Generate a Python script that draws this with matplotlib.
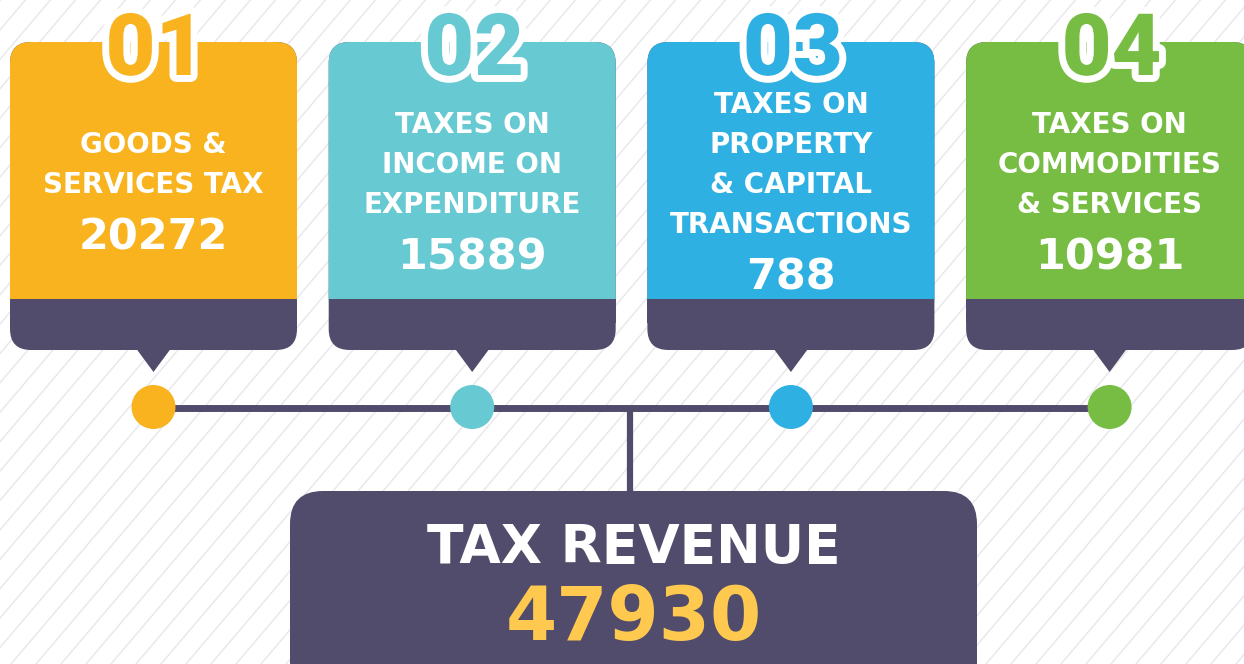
import matplotlib
matplotlib.use("Agg")
import matplotlib.pyplot as plt
import matplotlib.patheffects as pe
from matplotlib.patches import FancyBboxPatch, Rectangle, Circle, Polygon

# data
step_labels = ["01", "02", "03", "04"]
categories = [
    ["GOODS &", "SERVICES TAX"],
    ["TAXES ON", "INCOME ON", "EXPENDITURE"],
    ["TAXES ON", "PROPERTY", "& CAPITAL", "TRANSACTIONS"],
    ["TAXES ON", "COMMODITIES", "& SERVICES"],
]
values = [20272, 15889, 788, 10981]
total_label = "TAX REVENUE"
total_value = 47930
colors = ["#F8B31F", "#67C9D2", "#2FB0E3", "#77BD43"]

DARK = "#514C6B"
W, H = 1244, 664

fig = plt.figure(figsize=(W / 100, H / 100), dpi=100)
ax = fig.add_axes([0, 0, 1, 1])
ax.set_xlim(0, W)
ax.set_ylim(H, 0)
ax.axis("off")

# diagonal stripes in the background
for x0 in range(-H, W + H, 25):
    ax.plot([x0, x0 + H * 0.85], [H, 0], color="#E9E9ED", lw=1.1, zorder=0)

card_w = 287
card_top, band_top, card_bot = 42, 299, 350
pitch = 318.7
font = "DejaVu Sans"

centers = [153.5 + i * pitch for i in range(len(values))]

# connector lines
ax.plot([centers[0], centers[-1]], [408, 408], color=DARK, lw=5, zorder=1,
        solid_capstyle="butt")
ax.plot([630, 630], [408, 495], color=DARK, lw=4.5, zorder=1,
        solid_capstyle="butt")

for i, cx in enumerate(centers):
    x0 = cx - card_w / 2
    # dark base with rounded corners
    ax.add_patch(FancyBboxPatch((x0, card_top), card_w, card_bot - card_top,
                                boxstyle="round,pad=0,rounding_size=21",
                                fc=DARK, ec="none", zorder=2))
    # coloured upper part
    ax.add_patch(FancyBboxPatch((x0, card_top), card_w, band_top + 21 - card_top,
                                boxstyle="round,pad=0,rounding_size=21",
                                fc=colors[i], ec="none", zorder=3))
    ax.add_patch(Rectangle((x0, band_top), card_w, 24, fc=DARK, ec="none",
                           zorder=4))
    # pointer
    ax.add_patch(Polygon([[cx - 17, card_bot - 1], [cx + 17, card_bot - 1],
                          [cx, 372]], closed=True, fc=DARK, ec="none",
                         zorder=4))
    # dot on the connector
    ax.add_patch(Circle((cx, 407), 22, fc=colors[i], ec="none", zorder=5))

    # step number with white outline
    ax.text(cx + 2, 75, step_labels[i], ha="center", va="baseline",
            fontsize=62, fontweight="black", family="Roboto",
            color=colors[i], zorder=6,
            path_effects=[pe.withStroke(linewidth=10, foreground="white")])

    lines = categories[i]
    first = 193 - 20 * len(lines)
    for j, line in enumerate(lines):
        ax.text(cx, first + 40 * j, line, ha="center", va="baseline",
                fontsize=20, fontweight="bold", family=font,
                color="white", zorder=6)
    ax.text(cx, first + 40 * (len(lines) - 1) + 57, str(values[i]),
            ha="center", va="baseline", fontsize=31, fontweight="bold",
            family=font, color="white", zorder=6)

# total box
ax.add_patch(FancyBboxPatch((290, 491), 687, 220,
                            boxstyle="round,pad=0,rounding_size=33",
                            fc=DARK, ec="none", zorder=2))
ax.text(634, 563, total_label, ha="center", va="baseline", fontsize=38.5,
        fontweight="bold", family=font, color="white", zorder=6)
ax.text(634, 640, str(total_value), ha="center", va="baseline", fontsize=53,
        fontweight="bold", family=font, color="#FEC94E", zorder=6)

fig.savefig("out.png", dpi=100)
